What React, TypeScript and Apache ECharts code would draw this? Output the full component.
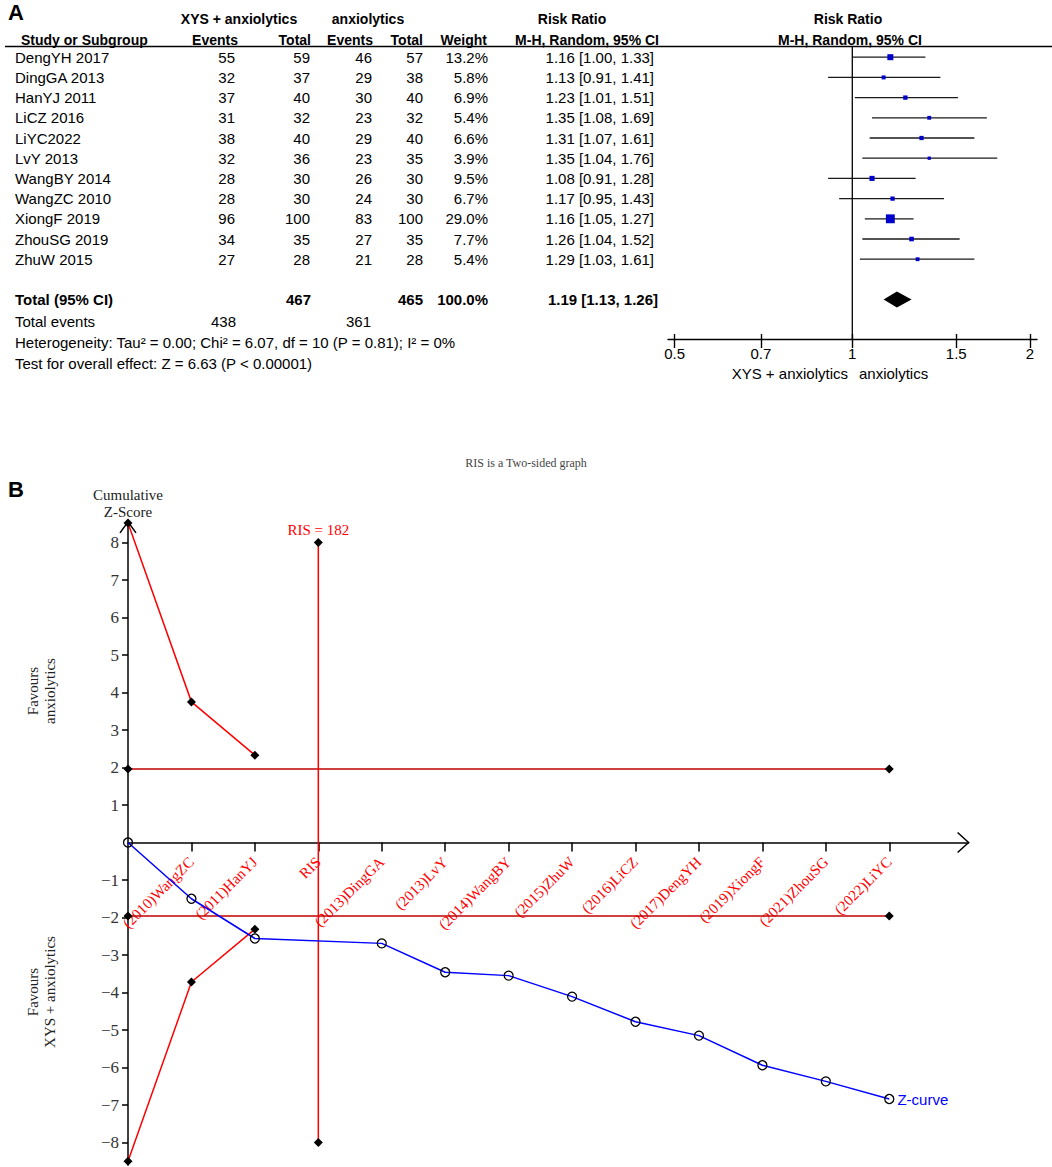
import React, { useEffect, useRef } from "react";
import * as echarts from "echarts";

// ---------- Panel A data ----------
const studies = ["DengYH 2017", "DingGA 2013", "HanYJ 2011", "LiCZ 2016", "LiYC2022", "LvY 2013", "WangBY 2014", "WangZC 2010", "XiongF 2019", "ZhouSG 2019", "ZhuW 2015"];
const expEvents = [55, 32, 37, 31, 38, 32, 28, 28, 96, 34, 27];
const expTotal = [59, 37, 40, 32, 40, 36, 30, 30, 100, 35, 28];
const ctlEvents = [46, 29, 30, 23, 29, 23, 26, 24, 83, 27, 21];
const ctlTotal = [57, 38, 40, 32, 40, 35, 30, 30, 100, 35, 28];
const weights = [13.2, 5.8, 6.9, 5.4, 6.6, 3.9, 9.5, 6.7, 29.0, 7.7, 5.4];
const riskRatio = [1.16, 1.13, 1.23, 1.35, 1.31, 1.35, 1.08, 1.17, 1.16, 1.26, 1.29];
const ciLow = [1.0, 0.91, 1.01, 1.08, 1.07, 1.04, 0.91, 0.95, 1.05, 1.04, 1.03];
const ciHigh = [1.33, 1.41, 1.51, 1.69, 1.61, 1.76, 1.28, 1.43, 1.27, 1.52, 1.61];
const pooledEstimate = [1.13, 1.19, 1.26]; // low, RR, high
const totalSummary = ["467", "465", "100.0%", "1.19 [1.13, 1.26]"];
const totalEvents = ["438", "361"];
const heterogeneityText = "Heterogeneity: Tau\u00b2 = 0.00; Chi\u00b2 = 6.07, df = 10 (P = 0.81); I\u00b2 = 0%";
const overallText = "Test for overall effect: Z = 6.63 (P < 0.00001)";
const forestTickLabels = ["0.5", "0.7", "1", "1.5", "2"];

// ---------- Panel B data ----------
const tsaLabels = ["(2010)WangZC", "(2011)HanYJ", "RIS", "(2013)DingGA", "(2013)LvY", "(2014)WangBY", "(2015)ZhuW", "(2016)LiCZ", "(2017)DengYH", "(2019)XiongF", "(2021)ZhouSG", "(2022)LiYC"];
const zCurveX = [0, 1, 2, 4, 5, 6, 7, 8, 9, 10, 11, 12];
const zCurveY = [0, -1.5, -2.56, -2.69, -3.46, -3.55, -4.11, -4.78, -5.15, -5.94, -6.37, -6.84];
const boundX = [0, 1, 2];
const upperBoundY = [8.52, 3.75, 2.33];
const lowerBoundY = [-8.5, -3.72, -2.31];
const conventionalZ = [1.96, -1.96];
const conventionalX = [0, 12];
const risX = 3;
const risRange = [8, -8];
const risSize = 182;
const zTicks = [-8, -7, -6, -5, -4, -3, -2, -1, 1, 2, 3, 4, 5, 6, 7, 8];
const tsaTicks = [1, 2, 3, 4, 5, 6, 7, 8, 9, 10, 11, 12];

const SANS = '"Liberation Sans", Arial, sans-serif';
const SERIF = '"Liberation Serif", "Times New Roman", serif';

// layout
const ROW0 = 57.2;
const ROWH = 20.2;
const rowY = (i: number) => ROW0 + ROWH * i;

const FOREST_LEFT = 668;
const FOREST_TOP = 47;
const FOREST_W = 369;
const FOREST_H = 292;
const lnMin = Math.log(0.5) - 0.0257;
const lnMax = Math.log(2) + 0.0273;

const B_LEFT = 128;
const B_XUNIT = 63.44;
const B_XMAX = 13.25;
const B_ZERO = 842.5;
const B_YUNIT = 37.5;
const B_YMAX = 8.55;
const B_YMIN = -8.6;
const B_TOP = B_ZERO - B_YMAX * B_YUNIT;
const B_H = (B_YMAX - B_YMIN) * B_YUNIT;
const B_W = B_XMAX * B_XUNIT;

function txt(text: string, x: number, y: number, opts: any = {}) {
  const align = opts.align || "left";
  return {
    type: "text",
    x,
    y,
    rotation: opts.rotation || 0,
    silent: true,
    style: {
      text,
      fill: opts.color || "#000",
      fontSize: opts.size || 15,
      fontFamily: opts.family || SANS,
      fontWeight: opts.weight || "normal",
      align,
      textAlign: align,
      verticalAlign: "middle",
      textVerticalAlign: "middle",
      lineHeight: opts.lineHeight,
    },
  };
}

export default function App() {
  const ref = useRef<HTMLDivElement>(null);

  useEffect(() => {
    if (!ref.current) return;
    const chart = echarts.init(ref.current, undefined, { renderer: "svg" });

    const forestTickVals = forestTickLabels.map((l) => Math.log(Number(l)));
    const forestFmt = (v: number) => {
      const i = forestTickVals.findIndex((t) => Math.abs(t - v) < 1e-9);
      return i >= 0 ? forestTickLabels[i] : "";
    };

    const ciRender = (params: any, api: any) => {
      const y = api.value(3);
      const p1 = api.coord([api.value(0), y]);
      const p2 = api.coord([api.value(1), y]);
      const c = api.coord([api.value(2), y]);
      const s = Math.sqrt(api.value(4)) * 1.65;
      return {
        type: "group",
        children: [
          { type: "line", shape: { x1: p1[0], y1: p1[1], x2: p2[0], y2: p2[1] }, style: { stroke: "#1a1a1a", lineWidth: 1.3 } },
          { type: "rect", shape: { x: c[0] - s / 2, y: c[1] - s / 2, width: s, height: s }, style: { fill: "#0000cc" } },
        ],
      };
    };

    const diamondRender = (params: any, api: any) => {
      const y = api.value(3);
      const l = api.coord([api.value(0), y]);
      const c = api.coord([api.value(1), y]);
      const r = api.coord([api.value(2), y]);
      return {
        type: "polygon",
        shape: { points: [[l[0], l[1]], [c[0], c[1] - 8], [r[0], r[1]], [c[0], c[1] + 8]] },
        style: { fill: "#000" },
      };
    };

    // table graphic
    const g: any[] = [];
    g.push(txt("A", 8, 12, { size: 22, weight: "bold" }));
    g.push(txt("B", 8, 489, { size: 22, weight: "bold" }));
    // headers
    const H1 = 19;
    const H2 = 40;
    g.push(txt("XYS + anxiolytics", 239, H1, { weight: "bold", size: 14, align: "center" }));
    g.push(txt("anxiolytics", 368, H1, { weight: "bold", size: 14, align: "center" }));
    g.push(txt("Risk Ratio", 572, H1, { weight: "bold", size: 14, align: "center" }));
    g.push(txt("Risk Ratio", 848, H1, { weight: "bold", size: 14, align: "center" }));
    g.push(txt("Study or Subgroup", 21, H2, { weight: "bold", size: 14 }));
    g.push(txt("Events", 238, H2, { weight: "bold", size: 14, align: "right" }));
    g.push(txt("Total", 311, H2, { weight: "bold", size: 14, align: "right" }));
    g.push(txt("Events", 373, H2, { weight: "bold", size: 14, align: "right" }));
    g.push(txt("Total", 423, H2, { weight: "bold", size: 14, align: "right" }));
    g.push(txt("Weight", 487, H2, { weight: "bold", size: 14, align: "right" }));
    g.push(txt("M-H, Random, 95% CI", 659, H2, { weight: "bold", size: 14, align: "right" }));
    g.push(txt("M-H, Random, 95% CI", 850, H2, { weight: "bold", size: 14, align: "center" }));
    g.push({ type: "line", silent: true, shape: { x1: 5, y1: 46.5, x2: 1052, y2: 46.5 }, style: { stroke: "#000", lineWidth: 1.4 } });

    studies.forEach((s, i) => {
      const y = rowY(i);
      g.push(txt(s, 15, y));
      g.push(txt(String(expEvents[i]), 235, y, { align: "right" }));
      g.push(txt(String(expTotal[i]), 310, y, { align: "right" }));
      g.push(txt(String(ctlEvents[i]), 372, y, { align: "right" }));
      g.push(txt(String(ctlTotal[i]), 423, y, { align: "right" }));
      g.push(txt(weights[i].toFixed(1) + "%", 488, y, { align: "right" }));
      g.push(txt(`${riskRatio[i].toFixed(2)} [${ciLow[i].toFixed(2)}, ${ciHigh[i].toFixed(2)}]`, 654, y, { align: "right" }));
    });
    const yT = rowY(12);
    g.push(txt("Total (95% CI)", 15, yT, { weight: "bold" }));
    g.push(txt(totalSummary[0], 311, yT, { weight: "bold", align: "right" }));
    g.push(txt(totalSummary[1], 423, yT, { weight: "bold", align: "right" }));
    g.push(txt(totalSummary[2], 488, yT, { weight: "bold", align: "right" }));
    g.push(txt(totalSummary[3], 658, yT, { weight: "bold", align: "right" }));
    const yE = rowY(13) + 1.5;
    g.push(txt("Total events", 15, yE));
    g.push(txt(totalEvents[0], 236, yE, { align: "right" }));
    g.push(txt(totalEvents[1], 371, yE, { align: "right" }));
    g.push(txt(heterogeneityText, 15, rowY(14) + 2.5));
    g.push(txt(overallText, 15, rowY(15) + 3.5));
    // forest favour labels
    g.push(txt("XYS + anxiolytics", 848, 373, { align: "right" }));
    g.push(txt("anxiolytics", 859, 373));

    // panel B decorations
    g.push(txt("RIS is a Two-sided graph", 526, 463, { family: SERIF, size: 12, color: "#444", align: "center" }));
    g.push(txt("Cumulative\nZ-Score", 128, 503, { family: SERIF, size: 15, color: "#222", align: "center", lineHeight: 17 }));
    g.push(txt("Favours\nanxiolytics", 41, 691, { family: SERIF, size: 15, color: "#222", align: "center", lineHeight: 17, rotation: Math.PI / 2 }));
    g.push(txt("Favours\nXYS + anxiolytics", 41, 992, { family: SERIF, size: 15, color: "#222", align: "center", lineHeight: 17, rotation: Math.PI / 2 }));
    // arrows
    g.push({ type: "polyline", silent: true, shape: { points: [[120, B_TOP + 11], [B_LEFT, B_TOP], [136, B_TOP + 11]] }, style: { stroke: "#000", lineWidth: 1.5, fill: null } });
    const xEnd = B_LEFT + B_W;
    g.push({ type: "polyline", silent: true, shape: { points: [[xEnd - 11, B_ZERO - 10], [xEnd, B_ZERO], [xEnd - 11, B_ZERO + 10]] }, style: { stroke: "#000", lineWidth: 1.5, fill: null } });

    const diamondSym = { symbol: "diamond", symbolSize: 9, itemStyle: { color: "#000" } };

    const option: any = {
      animation: false,
      backgroundColor: "#fff",
      grid: [
        { left: FOREST_LEFT, top: FOREST_TOP, width: FOREST_W, height: FOREST_H, outerBoundsMode: "none", containLabel: false },
        { left: B_LEFT, top: B_TOP, width: B_W, height: B_H, outerBoundsMode: "none", containLabel: false },
      ],
      xAxis: [
        {
          gridIndex: 0, type: "value", min: lnMin, max: lnMax, position: "bottom",
          axisLine: { onZero: false, lineStyle: { color: "#000", width: 1.4 } },
          axisTick: { customValues: forestTickVals, length: 9, lineStyle: { color: "#000", width: 1.4 } },
          axisLabel: { customValues: forestTickVals, formatter: forestFmt, margin: 7, fontFamily: SANS, fontSize: 15, color: "#000" },
          splitLine: { show: false },
        },
        {
          gridIndex: 0, type: "value", min: lnMin, max: lnMax, position: "bottom",
          axisLine: { show: false, onZero: false },
          axisTick: { inside: true, customValues: forestTickVals, length: 5, lineStyle: { color: "#000", width: 1.4 } },
          axisLabel: { show: false },
          splitLine: { show: false },
        },
        {
          gridIndex: 1, type: "value", min: 0, max: B_XMAX, position: "bottom",
          offset: -(0 - B_YMIN) * B_YUNIT,
          axisLine: { onZero: false, lineStyle: { color: "#000", width: 1.5 } },
          axisTick: { customValues: tsaTicks, length: 9, lineStyle: { color: "#000", width: 1.5 } },
          axisLabel: {
            customValues: tsaTicks, rotate: 45, margin: 17,
            formatter: (v: number) => tsaLabels[Math.round(v) - 1] || "",
            color: "#ff0000", fontFamily: SERIF, fontSize: 15,
          },
          splitLine: { show: false },
        },
      ],
      yAxis: [
        { gridIndex: 0, type: "value", inverse: true, min: -0.505, max: 13.95, show: false },
        {
          gridIndex: 1, type: "value", min: B_YMIN, max: B_YMAX,
          axisLine: { show: true, onZero: false, lineStyle: { color: "#000", width: 1.5 } },
          axisTick: { show: true, customValues: zTicks, length: 6, lineStyle: { color: "#000", width: 1.5 } },
          axisLabel: {
            customValues: zTicks, margin: 9, fontFamily: SERIF, fontSize: 17, color: "#333",
            formatter: (v: number) => (v < 0 ? "\u2212" + Math.abs(v) : String(v)),
          },
          splitLine: { show: false },
        },
      ],
      series: [
        {
          type: "line", xAxisIndex: 0, yAxisIndex: 0, symbol: "none", silent: true,
          data: [[0, -0.505], [0, 13.95]],
          lineStyle: { color: "#000", width: 1.3 },
        },
        {
          type: "custom", xAxisIndex: 0, yAxisIndex: 0, renderItem: ciRender, silent: true,
          encode: { x: [0, 1, 2], y: 3 },
          data: studies.map((_, i) => [Math.log(ciLow[i]), Math.log(ciHigh[i]), Math.log(riskRatio[i]), i, weights[i]]),
        },
        {
          type: "custom", xAxisIndex: 0, yAxisIndex: 0, renderItem: diamondRender, silent: true,
          encode: { x: [0, 1, 2], y: 3 },
          data: [[Math.log(pooledEstimate[0]), Math.log(pooledEstimate[1]), Math.log(pooledEstimate[2]), 12]],
        },
        // Panel B
        ...conventionalZ.map((z) => ({
          type: "line", xAxisIndex: 2, yAxisIndex: 1, silent: true, ...diamondSym,
          data: conventionalX.map((x) => [x, z]),
          lineStyle: { color: "#c00000", width: 1.5 },
        })),
        {
          type: "line", xAxisIndex: 2, yAxisIndex: 1, silent: true, ...diamondSym,
          data: [
            { value: [risX, risRange[0]], label: { show: true, position: "top", distance: 1, formatter: `RIS = ${risSize}`, color: "#ff0000", fontFamily: SERIF, fontSize: 15 } },
            { value: [risX, risRange[1]] },
          ],
          lineStyle: { color: "#ff0000", width: 1.5 },
        },
        {
          type: "line", xAxisIndex: 2, yAxisIndex: 1, silent: true, ...diamondSym,
          data: boundX.map((x, i) => [x, upperBoundY[i]]),
          lineStyle: { color: "#ff0000", width: 1.5 },
        },
        {
          type: "line", xAxisIndex: 2, yAxisIndex: 1, silent: true, ...diamondSym,
          data: boundX.map((x, i) => [x, lowerBoundY[i]]),
          lineStyle: { color: "#ff0000", width: 1.5 },
        },
        {
          type: "line", xAxisIndex: 2, yAxisIndex: 1, silent: true,
          symbol: "circle", symbolSize: 9,
          itemStyle: { color: "rgba(255,255,255,0)", borderColor: "#000", borderWidth: 1.3 },
          lineStyle: { color: "#0000ff", width: 1.5 },
          data: zCurveX.map((x, i) =>
            i === zCurveX.length - 1
              ? { value: [x, zCurveY[i]], label: { show: true, position: "right", distance: 3, formatter: "Z-curve", color: "#0000ff", fontFamily: SANS, fontSize: 15 } }
              : [x, zCurveY[i]]
          ),
          z: 5,
        },
      ],
      graphic: { elements: g },
    };

    chart.setOption(option);
    return () => chart.dispose();
  }, []);

  return <div ref={ref} style={{ position: "absolute", left: 0, top: 0, width: 1052, height: 1167, background: "#fff" }} />;
}
